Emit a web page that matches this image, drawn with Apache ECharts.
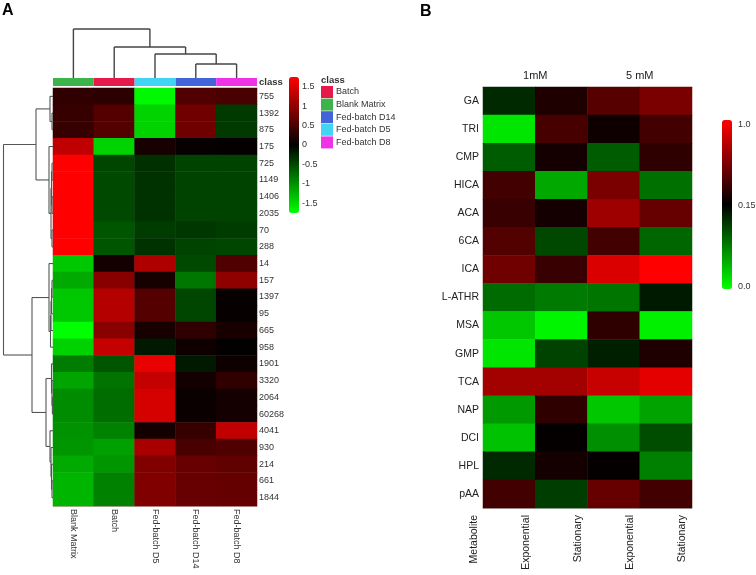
<!DOCTYPE html>
<html><head><meta charset="utf-8">
<script src="https://cdn.jsdelivr.net/npm/echarts@6/dist/echarts.min.js"></script>
<style>html,body{margin:0;padding:0;background:#fff}#c{width:756px;height:575px}</style>
</head><body><div id="c"></div>
<script>
// ---------- Panel A data ----------
const colLabelsA = ['Blank Matrix','Batch','Fed-batch D5','Fed-batch D14','Fed-batch D8'];
const rowLabelsA = ['755','1392','875','175','725','1149','1406','2035','70','288','14','157','1397','95','665','958','1901','3320','2064','60268','4041','930','214','661','1844'];
const valuesA = [
  [0.33, 0.30, -1.70, 0.55, 0.50],
  [0.38, 0.58, -1.45, 0.77, -0.40],
  [0.38, 0.58, -1.45, 0.77, -0.40],
  [1.32, -1.45, 0.16, 0.05, 0.03],
  [1.75, -0.48, -0.33, -0.45, -0.45],
  [1.75, -0.50, -0.34, -0.45, -0.45],
  [1.75, -0.50, -0.34, -0.45, -0.45],
  [1.75, -0.50, -0.34, -0.45, -0.45],
  [1.75, -0.58, -0.41, -0.38, -0.41],
  [1.75, -0.58, -0.34, -0.45, -0.48],
  [-1.37, 0.14, 1.20, -0.50, 0.55],
  [-1.17, 0.93, 0.15, -0.82, 0.98],
  [-1.37, 1.24, 0.58, -0.48, 0.05],
  [-1.37, 1.24, 0.58, -0.48, 0.05],
  [-1.75, 0.93, 0.17, 0.33, 0.17],
  [-1.44, 1.35, -0.17, 0.10, 0.02],
  [-0.86, -0.58, 1.60, -0.17, 0.10],
  [-1.13, -0.79, 1.35, 0.13, 0.33],
  [-0.96, -0.75, 1.46, 0.07, 0.14],
  [-0.96, -0.75, 1.46, 0.07, 0.14],
  [-1.00, -0.89, 0.14, 0.38, 1.32],
  [-1.03, -1.10, 1.15, 0.50, 0.55],
  [-1.17, -1.03, 0.88, 0.71, 0.66],
  [-1.24, -0.89, 0.88, 0.71, 0.69],
  [-1.24, -0.89, 0.88, 0.71, 0.69]
];
const classNames = ['Batch','Blank Matrix','Fed-batch D14','Fed-batch D5','Fed-batch D8'];
// dendrograms: leaf = index, node = [height, left, right]
const colTreeA = [49, 0, [31, 1, [24, 2, [14, 3, 4]]]];
const rowTreeA = [49.5,
  [17, [3, 0, [1, 1, 2]], [4, 3, [2, [1.5, [1, 4, 5], [1, 6, 7]], [1, 8, 9]]]],
  [21, [4, 10, [2.5, [2, [1.5, [1, 11, 12], 13], 14], 15]],
       [7, [1.5, 16, [1, 17, [0.6, 18, 19]]], [3, 20, [2, 21, [1.5, 22, [1, 23, 24]]]]]]
];
const scaleMinA = -1.75, scaleMaxA = 1.75;

// ---------- Panel B data ----------
const rowLabelsB = ['GA','TRI','CMP','HICA','ACA','6CA','ICA','L-ATHR','MSA','GMP','TCA','NAP','DCI','HPL','pAA'];
const colLabelsB = ['Exponential','Stationary','Exponential','Stationary'];
const groupLabelsB = ['1mM','5 mM'];
const bottomLabelsB = ['Metabolite','Exponential','Stationary','Exponential','Stationary'];
const valuesB = [
  [0.42, 0.56, 0.67, 0.74],
  [0.05, 0.64, 0.53, 0.63],
  [0.32, 0.54, 0.32, 0.59],
  [0.63, 0.17, 0.74, 0.28],
  [0.61, 0.54, 0.81, 0.70],
  [0.66, 0.36, 0.63, 0.30],
  [0.72, 0.61, 0.93, 1.00],
  [0.29, 0.26, 0.27, 0.45],
  [0.11, 0.02, 0.59, 0.03],
  [0.05, 0.37, 0.44, 0.56],
  [0.82, 0.82, 0.89, 0.95],
  [0.20, 0.59, 0.11, 0.18],
  [0.12, 0.51, 0.22, 0.35],
  [0.42, 0.54, 0.51, 0.25],
  [0.63, 0.38, 0.70, 0.63]
];
const scaleLabelsB = ['0.0','0.15','1.0'];

// ---------- styles ----------
const classColors = {'Batch':'#e6194b','Blank Matrix':'#3cb44b','Fed-batch D14':'#4363d8','Fed-batch D5':'#42d4f4','Fed-batch D8':'#f032e6'};
const FONT = 'Liberation Sans, Arial, sans-serif';

function matrixToData(m) {
  const out = [];
  m.forEach((row, r) => row.forEach((v, c) => out.push([c, r, v])));
  return out;
}
function dendroSegments(tree, orient) {
  const segs = [];
  const add = (p1, h1, p2, h2) => segs.push(orient === 'top' ? [p1, h1, p2, h2] : [h1, p1, h2, p2]);
  function walk(n) {
    if (typeof n === 'number') return {p: n + 0.5, h: 0};
    const h = n[0], a = walk(n[1]), b = walk(n[2]);
    add(a.p, a.h, a.p, h); add(b.p, b.h, b.p, h); add(a.p, h, b.p, h);
    return {p: (a.p + b.p) / 2, h: h};
  }
  walk(tree);
  return segs;
}
const segRender = (color, width) => (params, api) => {
  const p1 = api.coord([api.value(0), api.value(1)]);
  const p2 = api.coord([api.value(2), api.value(3)]);
  return {type: 'line', shape: {x1: p1[0], y1: p1[1], x2: p2[0], y2: p2[1]}, style: {stroke: color, lineWidth: width}};
};
const hidden = {show: false};
const noAxis = {axisLine: hidden, axisTick: hidden, splitLine: hidden};

const classSeries = classNames.map(name => ({
  type: 'custom', name: name, xAxisIndex: 1, yAxisIndex: 1,
  itemStyle: {color: classColors[name]},
  data: [[colLabelsA.indexOf(name), 0]],
  renderItem: (params, api) => {
    const c = api.coord([api.value(0), 0]);
    const s = api.size([1, 1]);
    return {type: 'rect', shape: {x: c[0] - s[0] / 2, y: c[1] - s[1] / 2, width: s[0], height: s[1]}, style: {fill: classColors[name]}};
  }
}));

const option = {
  animation: false,
  textStyle: {fontFamily: FONT},
  grid: [
    {left: 53, top: 88, width: 204, height: 418, outerBoundsMode: 'none'},
    {left: 53, top: 78, width: 204, height: 8, outerBoundsMode: 'none'},
    {left: 53, top: 28, width: 204, height: 50, outerBoundsMode: 'none'},
    {left: 3, top: 88, width: 50, height: 418, outerBoundsMode: 'none'},
    {left: 289, top: 86.7, width: 10, height: 116.6, outerBoundsMode: 'none'},
    {left: 483, top: 87, width: 209, height: 421, outerBoundsMode: 'none'},
    {left: 448, top: 87, width: 260, height: 421, outerBoundsMode: 'none'},
    {left: 722, top: 125, width: 10, height: 162, outerBoundsMode: 'none'}
  ],
  xAxis: [
    {gridIndex: 0, type: 'category', data: colLabelsA, position: 'bottom',
     axisLine: {lineStyle: {color: '#c9b0b0'}}, axisTick: hidden, splitLine: hidden,
     axisLabel: {rotate: -90, fontSize: 9, margin: 3, color: '#333', fontFamily: FONT}},
    {gridIndex: 1, type: 'category', data: colLabelsA, show: false},
    {gridIndex: 2, type: 'value', min: 0, max: 5, show: false},
    {gridIndex: 3, type: 'value', min: 0, max: 50, inverse: true, show: false},
    {gridIndex: 4, type: 'value', min: 0, max: 1, show: false},
    {gridIndex: 5, type: 'category', data: colLabelsB, position: 'bottom',
     axisLine: {lineStyle: {color: '#bbb'}}, axisTick: hidden, splitLine: hidden, axisLabel: hidden},
    {gridIndex: 5, type: 'category', data: groupLabelsB, position: 'top',
     axisLine: {lineStyle: {color: '#bbb'}}, axisTick: hidden, splitLine: hidden,
     axisLabel: {fontSize: 11, margin: 6, color: '#222', fontFamily: FONT}},
    Object.assign({gridIndex: 6, type: 'category', data: bottomLabelsB, position: 'bottom',
     axisLabel: {rotate: 90, fontSize: 10.5, margin: 7, color: '#222', fontFamily: FONT}}, noAxis),
    {gridIndex: 7, type: 'value', min: 0, max: 1, show: false}
  ],
  yAxis: [
    Object.assign({gridIndex: 0, type: 'category', data: rowLabelsA, inverse: true, position: 'right',
     axisLabel: {fontSize: 9, margin: 2, color: '#333', fontFamily: FONT}}, noAxis),
    {gridIndex: 1, type: 'category', data: ['class'], show: false},
    {gridIndex: 2, type: 'value', min: 0, max: 50, show: false},
    {gridIndex: 3, type: 'value', min: 0, max: 25, inverse: true, show: false},
    Object.assign({gridIndex: 4, type: 'value', min: -1.5, max: 1.5, interval: 0.5, position: 'right',
     axisLabel: {fontSize: 9, margin: 3, color: '#333', fontFamily: FONT}}, noAxis),
    Object.assign({gridIndex: 5, type: 'category', data: rowLabelsB, inverse: true, position: 'left',
     axisLabel: {fontSize: 10.5, margin: 4, color: '#222', fontFamily: FONT}}, noAxis),
    {gridIndex: 6, type: 'value', min: 0, max: 1, show: false},
    Object.assign({gridIndex: 7, type: 'value', min: 0, max: 1, interval: 0.5, position: 'right',
     axisLabel: {fontSize: 9, margin: 6, color: '#333', fontFamily: FONT,
                 formatter: v => scaleLabelsB[Math.round(v * 2)]}}, noAxis)
  ],
  visualMap: [
    {type: 'continuous', seriesIndex: 0, min: scaleMinA, max: scaleMaxA, calculable: false,
     orient: 'vertical', left: 289, top: 77, itemWidth: 10, itemHeight: 136, padding: 0,
     inRange: {color: ['#00ff00', '#000000', '#ff0000']}},
    {type: 'continuous', seriesIndex: 8, min: 0, max: 1, calculable: false,
     orient: 'vertical', left: 722, top: 120, itemWidth: 10, itemHeight: 169, padding: 0,
     inRange: {color: ['#00ff00', '#000000', '#ff0000']}}
  ],
  legend: {
    data: classNames, orient: 'vertical', left: 321, top: 86, padding: 0,
    icon: 'rect', itemWidth: 12, itemHeight: 12, itemGap: 0.6, selectedMode: false,
    textStyle: {fontSize: 9, color: '#333', fontFamily: FONT, padding: [0, 0, 0, -2]}
  },
  graphic: [
    {type: 'text', left: 2, top: 3, style: {text: 'A', font: 'bold 16px ' + FONT, fill: '#000'}},
    {type: 'text', left: 420, top: 4, style: {text: 'B', font: 'bold 16px ' + FONT, fill: '#000'}},
    {type: 'text', left: 259, top: 77, style: {text: 'class', font: 'bold 9.5px ' + FONT, fill: '#333'}},
    {type: 'text', left: 321, top: 75, style: {text: 'class', font: 'bold 9.5px ' + FONT, fill: '#333'}}
  ],
  series: [
    {type: 'heatmap', xAxisIndex: 0, yAxisIndex: 0, data: matrixToData(valuesA), emphasis: {disabled: true}}
  ].concat(classSeries).concat([
    {type: 'custom', xAxisIndex: 2, yAxisIndex: 2, data: dendroSegments(colTreeA, 'top'),
     encode: {x: [0, 2], y: [1, 3]}, renderItem: segRender('#444', 1.4), silent: true},
    {type: 'custom', xAxisIndex: 3, yAxisIndex: 3, data: dendroSegments(rowTreeA, 'left'),
     encode: {x: [0, 2], y: [1, 3]}, renderItem: segRender('#555', 1.1), silent: true},
    {type: 'heatmap', xAxisIndex: 5, yAxisIndex: 5, data: matrixToData(valuesB), emphasis: {disabled: true}}
  ])
};
const chart = echarts.init(document.getElementById('c'), null, {renderer: 'canvas'});
chart.setOption(option);
</script>
</body></html>
